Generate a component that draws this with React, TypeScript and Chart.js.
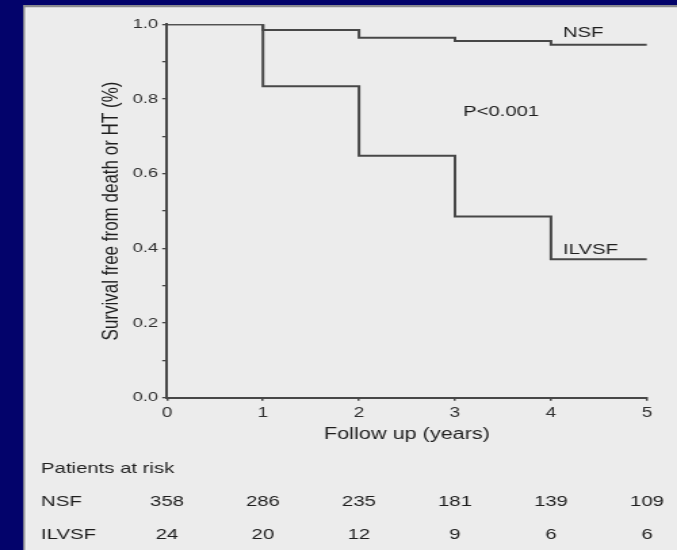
import React, { useEffect, useRef } from 'react';
import { Chart, registerables } from 'chart.js';

Chart.register(...registerables);

// ---- data ----
const years = [0, 1, 2, 3, 4, 5];
const nsfSurvival = [1.0, 0.985, 0.964, 0.955, 0.945, 0.945];
const ilvsfSurvival = [1.0, 0.834, 0.648, 0.485, 0.371, 0.371];
const xTickLabels = ['0', '1', '2', '3', '4', '5'];
const yTickLabels = ['0.0', '', '0.2', '', '0.4', '', '0.6', '', '0.8', '', '1.0'];
const riskTitle = 'Patients at risk';
const riskGroups = ['NSF', 'ILVSF'];
const nsfAtRisk = [358, 286, 235, 181, 139, 109];
const ilvsfAtRisk = [24, 20, 12, 9, 6, 6];
const curveLabels = ['NSF', 'P<0.001', 'ILVSF'];
const curveLabelX = [4.125, 3.083, 4.125];
const curveLabelY = [0.977, 0.765, 0.3955];

// ---- geometry (canvas is drawn narrower and stretched horizontally, like the source image) ----
const CANVAS_W = 500;
const CANVAS_H = 550;
const CSS_W = 677;
const FONT = '"Liberation Sans", Arial, Helvetica, sans-serif';
const LINE = '#474747';
const TEXT = '#1e1e1e';
const TICK_TEXT = '#303030';

const backgroundPlugin = {
  id: 'slideBackground',
  beforeDraw(chart: any) {
    const { ctx, width, height } = chart;
    ctx.save();
    ctx.fillStyle = '#03036b';
    ctx.fillRect(0, 0, width, height);
    ctx.fillStyle = '#8a8a8e';
    ctx.fillRect(17, 5, width - 17, height - 5);
    ctx.fillStyle = '#f6f6f6';
    ctx.fillRect(18.5, 7.3, width, height);
    ctx.fillStyle = '#ececec';
    ctx.fillRect(19.5, 8.3, width, height);
    ctx.restore();
  },
};

const textPlugin = {
  id: 'kmText',
  afterDraw(chart: any) {
    const { ctx } = chart;
    const xs = chart.scales.x;
    const ys = chart.scales.y;
    ctx.save();
    ctx.fillStyle = TEXT;
    ctx.textBaseline = 'middle';
    ctx.font = `15px ${FONT}`;
    ctx.textAlign = 'left';
    curveLabels.forEach((t, i) => {
      ctx.fillText(t, xs.getPixelForValue(curveLabelX[i]), ys.getPixelForValue(curveLabelY[i]));
    });

    // at-risk table
    ctx.font = `15px ${FONT}`;
    ctx.textAlign = 'left';
    ctx.fillText(riskTitle, 30.3, 469);
    const rows = [nsfAtRisk, ilvsfAtRisk];
    const rowY = [502, 535];
    rows.forEach((vals, r) => {
      ctx.textAlign = 'left';
      ctx.fillText(riskGroups[r], 30.3, rowY[r]);
      ctx.textAlign = 'center';
      vals.forEach((v, i) => {
        ctx.fillText(String(v), xs.getPixelForValue(years[i]), rowY[r]);
      });
    });
    ctx.restore();
  },
};

export default function App() {
  const ref = useRef<HTMLCanvasElement | null>(null);

  useEffect(() => {
    document.body.style.margin = '0';
    const canvas = ref.current!;
    const chart = new Chart(canvas, {
      type: 'line',
      data: {
        datasets: [
          {
            label: 'NSF',
            data: years.map((t, i) => ({ x: t, y: nsfSurvival[i] })),
            stepped: 'before',
            borderColor: LINE,
            borderWidth: 2,
            pointRadius: 0,
            fill: false,
          },
          {
            label: 'ILVSF',
            data: years.map((t, i) => ({ x: t, y: ilvsfSurvival[i] })),
            stepped: 'before',
            borderColor: LINE,
            borderWidth: 2,
            pointRadius: 0,
            fill: false,
          },
        ],
      },
      options: {
        animation: false,
        responsive: false,
        devicePixelRatio: 1,
        events: [],
        layout: { padding: { top: 24.3, right: 22.2, left: 0, bottom: 0 } },
        plugins: {
          legend: { display: false },
          tooltip: { enabled: false },
        },
        scales: {
          x: {
            type: 'linear',
            min: 0,
            max: 5,
            afterFit: (s: any) => {
              s.height = 152.3;
            },
            border: { display: true, color: LINE, width: 2 },
            grid: { drawOnChartArea: false, drawTicks: true, tickLength: 3, color: LINE, lineWidth: 1.5 },
            ticks: {
              stepSize: 1,
              padding: 4,
              color: TICK_TEXT,
              font: { family: FONT, size: 14 },
              maxRotation: 0,
              callback: (_v: any, i: number) => xTickLabels[i],
            },
            title: {
              display: true,
              text: 'Follow up (years)',
              color: TEXT,
              font: { family: FONT, size: 16 },
              padding: { top: 0, bottom: 105.4 },
            },
          },
          y: {
            type: 'linear',
            min: 0,
            max: 1,
            afterFit: (s: any) => {
              s.width = 123.3;
            },
            border: { display: true, color: LINE, width: 2 },
            grid: { drawOnChartArea: false, drawTicks: true, tickLength: 3.5, color: LINE, lineWidth: 1.3 },
            ticks: {
              stepSize: 0.1,
              padding: 3,
              autoSkip: false,
              color: TICK_TEXT,
              font: { family: FONT, size: 13.5 },
              callback: (_v: any, i: number) => yTickLabels[i],
            },
            title: {
              display: true,
              text: 'Survival free from death or HT (%)',
              color: TEXT,
              font: { family: FONT, size: 17 },
              padding: { top: 72.5, bottom: 0 },
            },
          },
        },
      },
      plugins: [backgroundPlugin, textPlugin],
    } as any);
    canvas.style.width = `${CSS_W}px`;
    canvas.style.height = `${CANVAS_H}px`;
    return () => chart.destroy();
  }, []);

  return (
    <div style={{ width: CSS_W, height: CANVAS_H, overflow: 'hidden' }}>
      <canvas
        ref={ref}
        width={CANVAS_W}
        height={CANVAS_H}
        style={{ width: CSS_W, height: CANVAS_H, display: 'block' }}
      />
    </div>
  );
}
